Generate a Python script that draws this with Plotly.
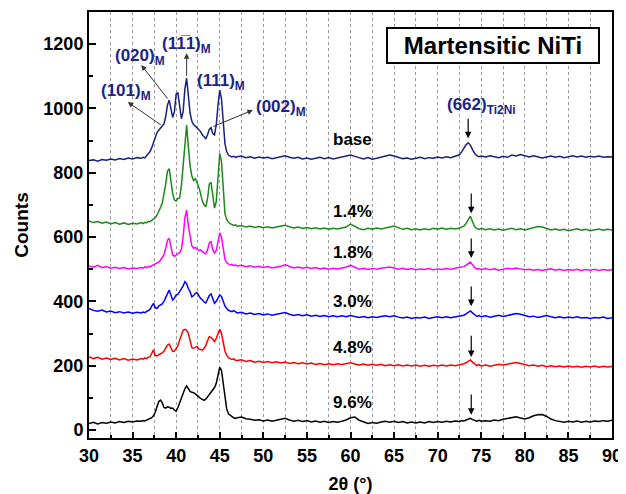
import numpy as np
import plotly.graph_objects as go

# 2-theta sampling positions (degrees): coarse baseline, fine in peak regions
two_theta = np.round(np.concatenate([
    np.arange(30.0, 36.01, 0.5),
    np.arange(36.2, 47.01, 0.2),
    np.arange(47.5, 72.51, 0.5),
    np.arange(72.75, 75.01, 0.25),
    np.arange(75.5, 90.01, 0.5),
]), 2)

base_counts = [
    838, 840, 836, 841, 839, 843, 840, 844, 841, 846, 843, 847, 845,
    848, 846, 852, 858, 866, 878, 896, 912, 925, 932, 940, 945, 952, 975, 1010, 1026, 1000, 972, 990, 1045,
    1048, 1000, 968, 990, 1060, 1094, 1040, 985, 960, 950, 945, 940, 935, 928, 918, 910, 906, 918, 935, 940,
    922, 918, 950, 1010, 1057, 1030, 950, 890, 865, 855, 852, 849, 851, 848, 850,
    852, 847, 850, 845, 849, 846, 848, 844, 847, 850, 853, 848, 845, 848, 843, 846, 842, 845, 848, 844, 847,
    843, 846, 848, 850, 855, 851, 846, 843, 847, 842, 845, 848, 851, 855, 852, 847, 844, 846, 842, 845, 848,
    844, 847, 845, 849, 846, 850, 847, 851, 856,
    865, 876, 887, 893, 886, 872, 860, 853, 850, 852,
    849, 853, 850, 847, 851, 848, 855, 852, 857, 852, 849, 853, 850, 846, 849, 852, 848, 851, 847, 850,
    853, 849, 852, 848, 851, 849, 852, 848, 850, 849,
]
counts_1p4 = [
    650, 645, 648, 643, 647, 641, 645, 640, 644, 639, 643, 641, 645,
    642, 646, 644, 649, 648, 652, 655, 660, 668, 678, 692, 705, 730, 765, 805, 813, 775, 735, 715, 712,
    720, 722, 760, 820, 900, 948, 880, 820, 790, 776, 782, 770, 755, 735, 712, 700, 694, 720, 765, 770,
    720, 690, 710, 800, 860, 835, 740, 672, 655, 646, 642, 640, 636, 638, 634,
    636, 631, 634, 630, 633, 629, 632, 628, 631, 633, 637, 632, 628, 631, 627, 630, 626, 629, 625, 628, 624,
    627, 625, 628, 631, 640, 633, 626, 623, 627, 624, 628, 625, 629, 631, 634, 628, 624, 627, 623, 626, 622,
    626, 623, 627, 624, 628, 624, 627, 625, 628,
    630, 634, 642, 655, 665, 648, 632, 626, 624, 627,
    623, 626, 622, 625, 621, 624, 627, 623, 626, 622, 625, 629, 633, 631, 626, 622, 625, 621, 624, 620,
    623, 626, 621, 624, 620, 623, 625, 621, 624, 622,
]
counts_1p8 = [
    510, 506, 512, 505, 508, 503, 506, 502, 505, 501, 504, 502, 505,
    503, 507, 505, 509, 507, 511, 514, 516, 518, 522, 528, 535, 545, 565, 590, 596, 565, 545, 540, 544,
    548, 552, 562, 600, 660, 684, 635, 595, 572, 565, 568, 562, 558, 560, 554, 550, 548, 560, 582, 586,
    560, 550, 558, 590, 613, 600, 560, 530, 520, 515, 513, 515, 511, 513, 510,
    512, 508, 511, 506, 509, 505, 508, 504, 507, 509, 514, 508, 504, 507, 503, 506, 502, 505, 501, 504, 500,
    503, 501, 504, 506, 512, 505, 500, 503, 499, 502, 500, 503, 505, 507, 504, 500, 503, 499, 502, 498, 501,
    499, 502, 498, 501, 499, 502, 500, 503, 505,
    506, 508, 512, 518, 522, 514, 505, 500, 502, 499,
    502, 498, 501, 497, 500, 503, 501, 504, 501, 498, 500, 497, 499, 496, 499, 501, 497, 500, 496, 499,
    497, 500, 496, 499, 497, 500, 496, 499, 497, 498,
]
counts_3p0 = [
    378, 372, 369, 373, 367, 370, 365, 368, 364, 367, 363, 366, 364,
    367, 365, 369, 372, 375, 385, 394, 380, 378, 385, 389, 392, 400, 412, 428, 435, 420, 404, 410, 420,
    422, 430, 437, 448, 461, 455, 440, 430, 414, 418, 425, 427, 418, 409, 405, 398, 395, 405, 418, 423,
    405, 394, 400, 412, 420, 415, 398, 385, 378, 372, 370, 368, 371, 366, 364,
    366, 361, 364, 359, 362, 358, 361, 357, 360, 362, 365, 360, 356, 359, 355, 358, 354, 357, 353, 356, 352,
    355, 352, 355, 352, 356, 354, 350, 353, 349, 352, 350, 353, 355, 352, 355, 351, 348, 351, 347, 350, 348,
    351, 347, 350, 352, 349, 352, 349, 352, 354,
    355, 357, 361, 366, 370, 364, 357, 353, 356, 352,
    355, 351, 354, 357, 353, 356, 359, 362, 360, 355, 352, 354, 350, 353, 356, 352, 349, 352, 348, 351,
    349, 352, 348, 350, 347, 350, 348, 351, 347, 349,
]
counts_4p8 = [
    228, 222, 226, 220, 224, 219, 223, 218, 222, 217, 221, 218, 222,
    220, 224, 222, 226, 228, 238, 249, 232, 230, 234, 236, 240, 245, 255, 264, 267, 255, 244, 245, 252,
    262, 280, 298, 310, 313, 310, 300, 275, 256, 254, 258, 260, 252, 250, 248, 254, 262, 278, 290, 288,
    280, 275, 285, 300, 313, 300, 268, 245, 232, 225, 222, 219, 221, 217, 216,
    218, 213, 216, 211, 214, 210, 213, 209, 212, 208, 211, 207, 210, 206, 209, 205, 208, 204, 207, 203, 206,
    203, 206, 204, 207, 209, 205, 202, 205, 201, 204, 201, 204, 200, 203, 200, 203, 199, 202, 199, 202, 198,
    201, 198, 201, 199, 202, 199, 202, 200, 203,
    204, 206, 209, 213, 218, 211, 204, 200, 203, 199,
    202, 198, 201, 204, 202, 205, 208, 210, 207, 203, 200, 202, 198, 201, 197, 200, 197, 199, 196, 199,
    196, 198, 195, 198, 196, 199, 195, 198, 196, 197,
]
counts_9p6 = [
    20, 24, 19, 23, 21, 25, 22, 26, 23, 27, 25, 28, 27,
    29, 28, 31, 33, 35, 38, 44, 55, 72, 88, 93, 85, 70, 68, 72, 71, 67, 68, 62, 58,
    70, 85, 102, 118, 128, 137, 128, 120, 117, 116, 112, 106, 103, 98, 95, 92, 96, 104, 112, 118,
    124, 132, 145, 170, 195, 185, 140, 95, 65, 50, 45, 42, 38, 36, 38,
    40, 35, 33, 30, 32, 28, 31, 27, 30, 32, 36, 31, 27, 30, 26, 29, 25, 28, 24, 27, 23,
    26, 24, 27, 31, 38, 40, 30, 25, 20, 23, 21, 25, 27, 24, 27, 23, 26, 22, 25, 22, 25,
    22, 26, 23, 26, 24, 27, 25, 28, 26,
    29, 28, 31, 34, 36, 32, 29, 27, 30, 27,
    29, 27, 31, 29, 33, 36, 38, 41, 37, 34, 38, 44, 47, 48, 42, 34, 29, 26, 24, 27,
    25, 28, 24, 27, 25, 28, 26, 29, 27, 30,
]

series_names = ["base", "1.4%", "1.8%", "3.0%", "4.8%", "9.6%"]
series_values = [base_counts, counts_1p4, counts_1p8, counts_3p0, counts_4p8, counts_9p6]
series_colors = ["#1b1f82", "#1a8a1a", "#ff00ff", "#0000ff", "#ff0000", "#000000"]
label_y = [905, 681, 553, 401, 255, 84]

# Ti2Ni (662) marker arrows: (x, tail y, head y)
ti2ni_x = [73.5, 73.85, 73.85, 73.85, 73.85, 73.85]
ti2ni_tail = [973, 740, 600, 451, 298, 115]
ti2ni_head = [907, 674, 535, 385, 227, 47]

# Martensite reflection labels: text, label position, arrow head, arrow tail
peak_texts = ["(101)<sub>M</sub>", "(020)<sub>M</sub>", "(11\u03051)<sub>M</sub>",
              "(111)<sub>M</sub>", "(002)<sub>M</sub>", "(662)<sub>Ti2Ni</sub>"]
peak_label_x = [34.3, 35.9, 41.2, 45.2, 52.0, 75.0]
peak_label_y = [1052, 1160, 1196, 1082, 1001, 1007]
arrow_head_x = [34.45, 36.0, 41.2, None, 48.8, None]
arrow_head_y = [1020, 1135, 1172, None, 995, None]
arrow_tail_x = [38.4, 39.15, 41.2, None, 44.1, None]
arrow_tail_y = [946, 1026, 1097, None, 942, None]

for v in series_values:
    assert len(v) == len(two_theta), (len(v), len(two_theta))

FONT = "Liberation Sans, Arial, sans-serif"
NAVY = "#1b2585"

fig = go.Figure()
for name, vals, col in zip(series_names, series_values, series_colors):
    fig.add_trace(go.Scatter(x=two_theta, y=vals, mode="lines", name=name,
                             line=dict(color=col, width=1.5), showlegend=False))

annotations = []
for name, yv in zip(series_names, label_y):
    annotations.append(dict(x=60.2, y=yv, xref="x", yref="y", text=name, showarrow=False,
                            font=dict(family=FONT, size=17, color="black", weight="bold")))

for x, t, h in zip(ti2ni_x, ti2ni_tail, ti2ni_head):
    annotations.append(dict(x=x, y=h, ax=x, ay=t, xref="x", yref="y", axref="x", ayref="y",
                            text="", showarrow=True, arrowhead=2, arrowsize=1.1, arrowwidth=1.2,
                            arrowcolor="black"))

for i, txt in enumerate(peak_texts):
    annotations.append(dict(x=peak_label_x[i], y=peak_label_y[i], xref="x", yref="y", text=txt,
                            showarrow=False,
                            font=dict(family=FONT, size=17, color=NAVY, weight="bold")))
    if arrow_head_x[i] is not None:
        annotations.append(dict(x=arrow_head_x[i], y=arrow_head_y[i], ax=arrow_tail_x[i],
                                ay=arrow_tail_y[i], xref="x", yref="y", axref="x", ayref="y",
                                text="", showarrow=True, arrowhead=2, arrowsize=1.1,
                                arrowwidth=1.0, arrowcolor="#333333"))

annotations.append(dict(x=76.4, y=1195, xref="x", yref="y", text="Martensitic NiTi",
                        showarrow=False, bordercolor="black", borderwidth=2, borderpad=2,
                        bgcolor="white", width=206, height=29,
                        font=dict(family=FONT, size=24, color="black", weight="bold")))

# The page body has an 8 px default margin; the figure is sized to fit the window.
fig.update_layout(
    width=618, height=486,
    margin=dict(l=81, r=14, t=4, b=56),
    paper_bgcolor="white", plot_bgcolor="white",
    annotations=annotations,
    xaxis=dict(
        range=[30, 90], tickmode="linear", tick0=30, dtick=5, automargin=False,
        showline=True, linecolor="black", linewidth=2, mirror=True,
        ticks="inside", ticklen=6, tickwidth=2, tickcolor="black",
        showgrid=True, gridcolor="#9a9a9a", griddash="dot", gridwidth=1,
        minor=dict(dtick=2.5, ticks="inside", ticklen=3, tickwidth=2, tickcolor="black",
                   showgrid=True, gridcolor="#9a9a9a", griddash="dot", gridwidth=1),
        zeroline=False,
        tickfont=dict(family=FONT, size=18, color="black", weight="bold"),
        title=dict(text="2\u03b8 (\u00b0)", standoff=14,
                   font=dict(family=FONT, size=18, color="black", weight="bold")),
    ),
    yaxis=dict(
        range=[-25, 1300], tickmode="linear", tick0=0, dtick=200, automargin=False,
        showline=True, linecolor="black", linewidth=2, mirror=True,
        ticks="inside", ticklen=7, tickwidth=2, tickcolor="black",
        minor=dict(dtick=100, ticks="inside", ticklen=4, tickwidth=2, tickcolor="black"),
        showgrid=False, zeroline=False,
        tickfont=dict(family=FONT, size=18, color="black", weight="bold"),
        title=dict(text="Counts", standoff=10,
                   font=dict(family=FONT, size=19, color="black", weight="bold")),
    ),
)

fig.write_html("out.html")
